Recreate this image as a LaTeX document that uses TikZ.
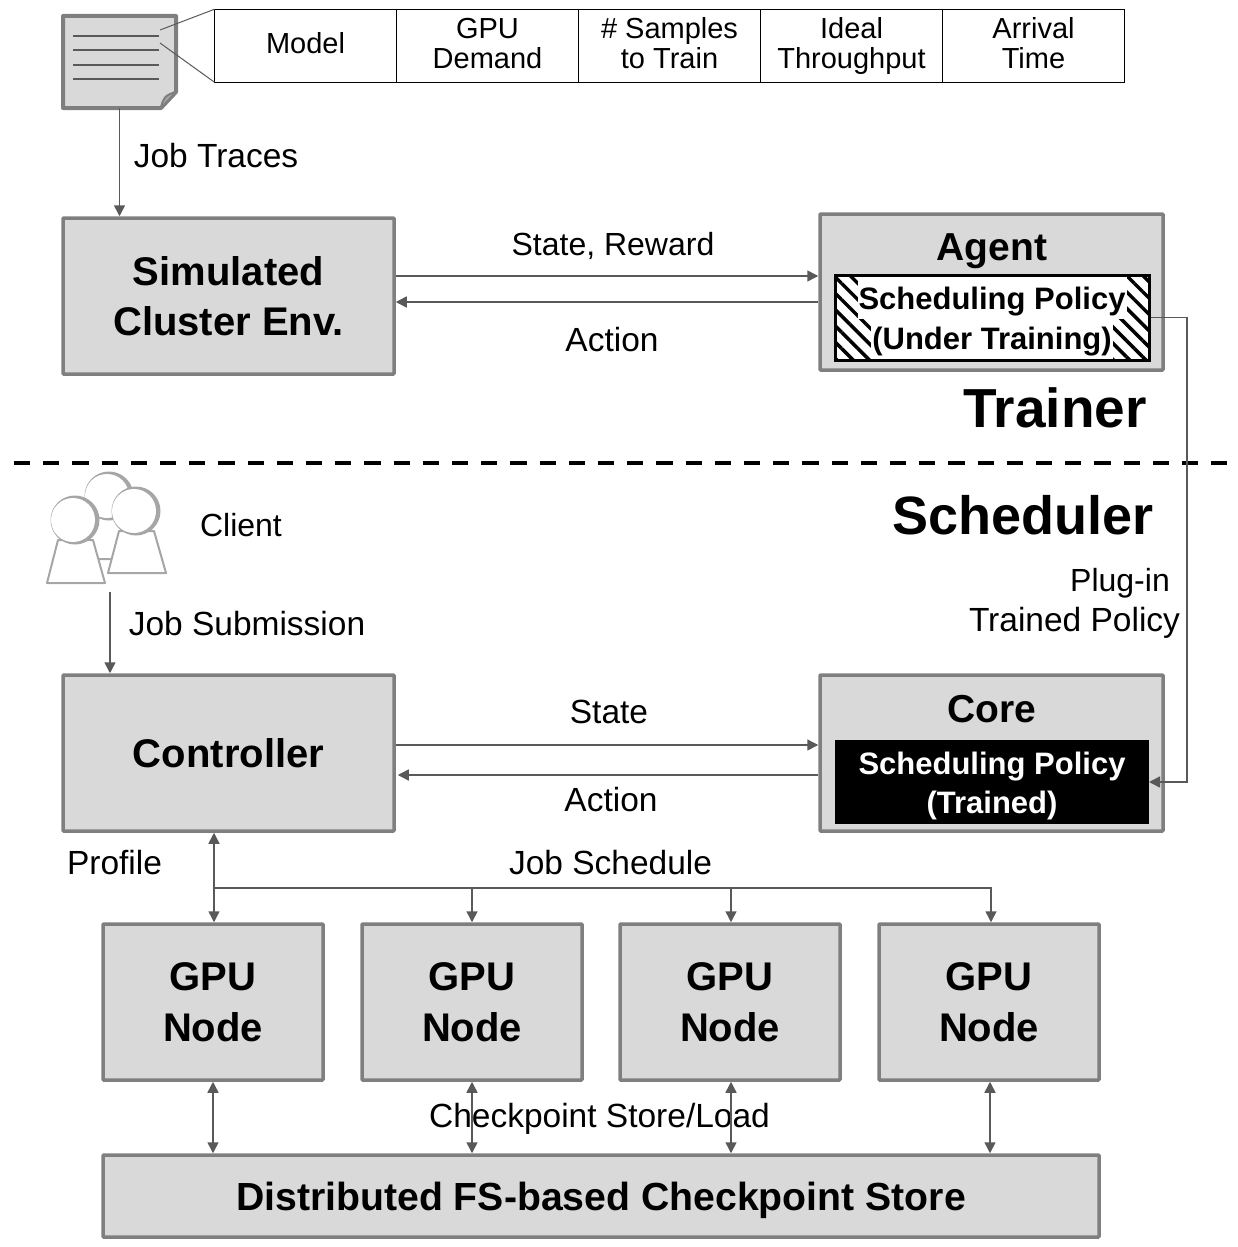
\documentclass[tikz,border=0pt]{standalone}
\usepackage{fontspec}
\setmainfont{Liberation Sans}
\usetikzlibrary{arrows.meta,positioning,patterns.meta}
\definecolor{boxfill}{HTML}{D9D9D9}
\definecolor{boxline}{HTML}{7F7F7F}
\definecolor{connline}{HTML}{595959}
\definecolor{headline}{HTML}{A6A6A6}
\newcommand{\cellstrut}{\rule[-5.5pt]{0pt}{24.5pt}}

\begin{document}
\begin{tikzpicture}[x=1pt, y=-1pt,
    box/.style={draw=boxline, fill=boxfill, line width=3.5pt, rounded corners=0.8pt, align=center, inner sep=0pt,
      font=\bfseries\fontsize{40}{50.5}\selectfont},
    cell/.style={draw=black, fill=white, line width=0.9pt, outer sep=0pt, minimum width=182pt, minimum height=73pt,
      align=center, inner sep=0pt, font=\fontsize{29}{30}\selectfont},
    lab/.style={inner sep=0pt, text height=25pt, text depth=1pt, font=\fontsize{33.5}{40}\selectfont},
    labsm/.style={lab, font=\fontsize{32}{40}\selectfont},
    headtxt/.style={inner sep=0pt, text height=40pt, text depth=1pt, font=\bfseries\fontsize{55}{60}\selectfont},
    titletxt/.style={inner sep=0pt, text height=29pt, text depth=1pt, font=\bfseries\fontsize{39}{40}\selectfont},
    pol/.style={inner xsep=1pt, inner ysep=0pt, text height=31pt, text depth=9pt, font=\bfseries\fontsize{31}{39.5}\selectfont},
    conn/.style={draw=connline, line width=1.5pt, -{Triangle[length=11pt,width=11pt]}},
    biconn/.style={draw=connline, line width=1.5pt, {Triangle[length=11pt,width=11pt]}-{Triangle[length=11pt,width=11pt]}},
    thin conn/.style={draw=connline, line width=1pt}]
  \useasboundingbox (0,0) rectangle (1237,1247);

  % Trace file and its fields
  \node[minimum width=113pt, minimum height=92pt, inner sep=0pt, outer sep=0pt] (trace) at (119.5,62) {};
  \draw[draw=boxline, fill=boxfill, line width=4pt, line join=round]
    (trace.north west) -- (trace.north east) -- (176,92) -- (161,108) -- (trace.south west) -- cycle;
  \draw[draw=boxline, fill=headline, line width=2pt, line join=round]
    (161,108) .. controls (163,98) and (165,95) .. (176,92) -- cycle;
  \foreach \ypos in {36,50,65,79}
    \draw[connline, line width=1.8pt] (73,\ypos) -- (159,\ypos);

  \node[cell] (model) at (305.5,45.75) {\cellstrut Model};
  \node[cell, right=0pt of model] (demand) {\cellstrut GPU\\\cellstrut Demand};
  \node[cell, right=0pt of demand] (samples) {\cellstrut \# Samples\\\cellstrut to Train};
  \node[cell, right=0pt of samples] (ideal) {\cellstrut Ideal\\\cellstrut Throughput};
  \node[cell, right=0pt of ideal] (arrival) {\cellstrut Arrival\\\cellstrut Time};
  \coordinate (callA) at (160,30);
  \coordinate (callB) at (160,43);
  \draw[thin conn] (callA) -- (model.north west);
  \draw[thin conn] (callB) -- (model.south west);

  % Trainer
  \node[box, minimum width=331pt, minimum height=156pt] (sim) at (228.5,296) {Simulated\\Cluster Env.};
  \node[box, minimum width=343pt, minimum height=156pt] (agent) at (991.5,292) {};
  \node[titletxt] (agenttxt) at (992,246) {Agent};
  \node[draw=black, line width=3pt, outer sep=1.5pt, minimum width=314pt, minimum height=85pt, inner sep=0pt,
    pattern={Lines[angle=-45,distance=11.5pt,line width=3.5pt]}, preaction={fill=white}] (policy) at (992,317.5) {};
  \node[pol, fill=white, text height=32.5pt, text depth=9.5pt] (policyA) at (992,298) {Scheduling Policy};
  \node[pol, fill=white, text height=32pt, text depth=10pt] (policyB) at (992,338) {(Under Training)};

  \node[lab] (jobtraces) at (216,155) {Job Traces};
  \node[labsm] (statereward) at (613,243) {State, Reward};
  \node[lab] (actionA) at (612,339) {Action};
  \node[headtxt] (trainer) at (1055,408) {Trainer};

  % Divider
  \coordinate (divL) at (14,463);
  \coordinate (divR) at (1227,463);
  \draw[black, line width=3.5pt, dash pattern=on 16.2pt off 13pt] (divL) -- (divR);

  % Scheduler
  \node[headtxt, font=\bfseries\fontsize{54}{60}\selectfont] (scheduler) at (1023,515) {Scheduler};
  \foreach \cx/\cy/\low in {109/496/559, 75/520/583, 136/511/573} {
    \draw[draw=headline, fill=white, line width=2pt, line join=round]
      (\cx-17,\cy+20) -- (\cx-28,\low) -- (\cx+30,\low) -- (\cx+18,\cy+20) -- cycle;
    \fill[headline] (\cx,\cy) circle (24.5);
    \fill[white] (\cx-2,\cy) circle (22);
  }
  \node[inner sep=0pt, minimum width=2pt, minimum height=2pt] (client) at (110,591) {};
  \node[labsm] (clienttxt) at (241,524) {Client};
  \node[lab] (jobsub) at (247,623) {Job Submission};
  \node[labsm] (plugin) at (1120,579) {Plug-in};
  \node[lab] (trainedpol) at (1074.5,619) {Trained Policy};

  \node[box, minimum width=331pt, minimum height=156pt] (ctrl) at (228.5,753) {Controller};
  \node[box, minimum width=343pt, minimum height=156pt] (core) at (991.5,753) {};
  \node[titletxt] (coretxt) at (992,708) {Core};
  \node[fill=black, inner sep=0pt, outer sep=0pt, minimum width=314pt, minimum height=84pt] (trained) at (992,782) {};
  \node[pol, text=white] (trainedA) at (992,763) {Scheduling Policy};
  \node[pol, text=white] (trainedB) at (992,802) {(Trained)};

  \node[lab] (statetxt) at (609,711) {State};
  \node[lab] (actionB) at (611,799) {Action};
  \node[lab] (profile) at (114.5,862) {Profile};
  \node[lab] (jobsched) at (610.5,862) {Job Schedule};

  \node[box, minimum width=220pt, minimum height=156pt] (gpu1) at (213,1002) {GPU\\Node};
  \node[box, minimum width=220pt, minimum height=156pt, right=35.5pt of gpu1] (gpu2) {GPU\\Node};
  \node[box, minimum width=220pt, minimum height=156pt, right=34.5pt of gpu2] (gpu3) {GPU\\Node};
  \node[box, minimum width=220pt, minimum height=156pt, right=35.5pt of gpu3] (gpu4) {GPU\\Node};
  \node[box, minimum width=996pt, minimum height=82pt, text height=29pt, text depth=1pt,
    font=\bfseries\fontsize{39.2}{40}\selectfont] (store) at (601,1196) {Distributed FS-based Checkpoint Store};
  \node[lab] (ckpt) at (599.5,1115) {Checkpoint Store/Load};

  % Edges
  \draw[conn] (trace.south) -- (trace.south |- sim.north);
  \draw[conn] ([yshift=20pt]sim.east) -- ([yshift=20pt]sim.east -| agent.west);
  \draw[conn] ([yshift=-6pt]sim.east -| agent.west) -- ([yshift=-6pt]sim.east);
  \coordinate (plugbend) at (1187,463);
  \draw[conn] (policy.east) -| (plugbend) |- (trained.east);
  \draw[conn] (client.south) -- (client.south |- ctrl.north);
  \draw[conn] ([yshift=8pt]ctrl.east) -- ([yshift=8pt]ctrl.east -| core.west);
  \draw[conn] ([yshift=-22pt]ctrl.east -| core.west) -- ([yshift=-22pt,xshift=2pt]ctrl.east);
  \draw[biconn] ([xshift=1pt]gpu1.north |- ctrl.south) -- ([xshift=1pt]gpu1.north);
  \coordinate (bus) at (214,888);
  \foreach \n/\sh in {2/0,3/1,4/2}
    \draw[conn] (bus) -| ([xshift=\sh pt]gpu\n.north);
  \foreach \n/\sh in {1/0,2/0,3/1,4/1}
    \draw[biconn] ([xshift=\sh pt]gpu\n.south) -- ([xshift=\sh pt]gpu\n.south |- store.north);
\end{tikzpicture}
\end{document}
